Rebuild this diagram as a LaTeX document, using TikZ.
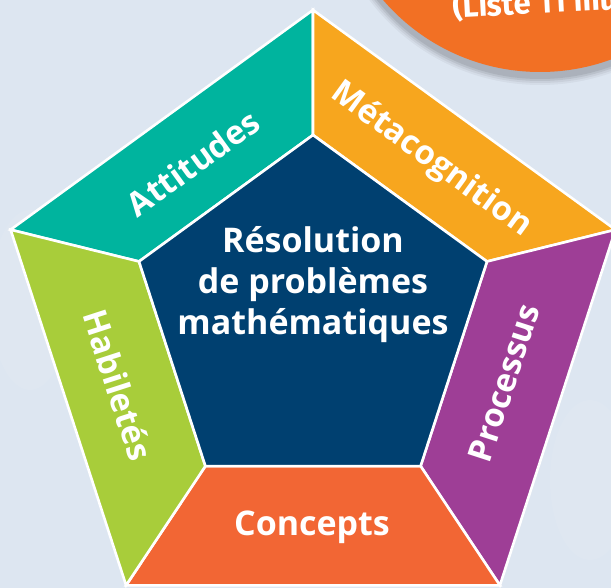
\documentclass[tikz,border=0pt]{standalone}
\usepackage{fontspec}
\setmainfont{Open Sans}
\newfontfamily\condfont{Fira Sans}
\definecolor{bgblue}{RGB}{221,230,241}
\definecolor{cteal}{RGB}{0,180,158}
\definecolor{cyellow}{RGB}{247,166,30}
\definecolor{cpurple}{RGB}{158,62,150}
\definecolor{corange}{RGB}{242,102,52}
\definecolor{cgreen}{RGB}{168,205,58}
\definecolor{cnavy}{RGB}{0,64,112}
\definecolor{ccircle}{RGB}{242,112,36}
\tikzset{
  region/.style={draw=white, line width=2.6pt, line join=miter},
  lbl/.style={text=white, font=\fontsize{34}{41}\selectfont\bfseries, inner sep=0pt, align=center},
  sidelbl/.style={lbl, font=\fontsize{33}{41}\selectfont\bfseries},
}
\begin{document}
\begin{tikzpicture}[x=1pt,y=-1pt]
\useasboundingbox (0,0) rectangle (611,588);
\clip (0,0) rectangle (611,588);
\fill[bgblue] (0,0) rectangle (611,588);
% soft texture
\fill[white,opacity=0.06] (30,300) ellipse (40 and 90);
\fill[white,opacity=0.06] (590,480) ellipse (40 and 80);
% orange circle with shadow
\foreach \r/\o in {7/0.04,5/0.05,3/0.07,1/0.08}{
  \fill[black,opacity=\o] (540,-129) circle (207+\r);
}
\fill[ccircle] (540,-135) circle (207);
\node[text=white, font=\condfont\fontsize{32}{34}\selectfont\bfseries, anchor=base west, rotate=3, inner sep=0pt, xscale=0.97] (liste) at (453,18) {(Liste 11 mu};
% vertices
\coordinate (O1) at (313,10);
\coordinate (O2) at (10.6,229.7);
\coordinate (O3) at (126.1,585.3);
\coordinate (O4) at (499.9,585.3);
\coordinate (O5) at (615.4,229.7);
\coordinate (I1) at (313,135);
\coordinate (I2) at (139,261.5);
\coordinate (I3) at (205.4,466.1);
\coordinate (I4) at (420.6,466.1);
\coordinate (I5) at (487,261.5);
% regions
\filldraw[region, fill=cteal] (O2) -- (O1) -- (I1) -- (I2) -- cycle;
\filldraw[region, fill=cyellow] (O1) -- (O5) -- (I5) -- (I1) -- cycle;
\filldraw[region, fill=cpurple] (O5) -- (O4) -- (I4) -- (I5) -- cycle;
\filldraw[region, fill=corange] (O4) -- (O3) -- (I3) -- (I4) -- cycle;
\filldraw[region, fill=cgreen] (O3) -- (O2) -- (I2) -- (I3) -- cycle;
\filldraw[region, fill=cnavy] (I1) -- (I2) -- (I3) -- (I4) -- (I5) -- cycle;
% labels
\node[lbl] (centre) at (313,285) {Résolution\\de problèmes\\mathématiques};
\node[sidelbl, rotate=36] (attitudes) at (193,163) {Attitudes};
\node[sidelbl, rotate=-36] (meta) at (431,160) {Métacognition};
\node[sidelbl, rotate=72] (processus) at (504,383) {Processus};
\node[lbl, anchor=base] (concepts) at (312,535) {Concepts};
\node[sidelbl, rotate=-72] (habiletes) at (118,385) {Habiletés};
\end{tikzpicture}
\end{document}
